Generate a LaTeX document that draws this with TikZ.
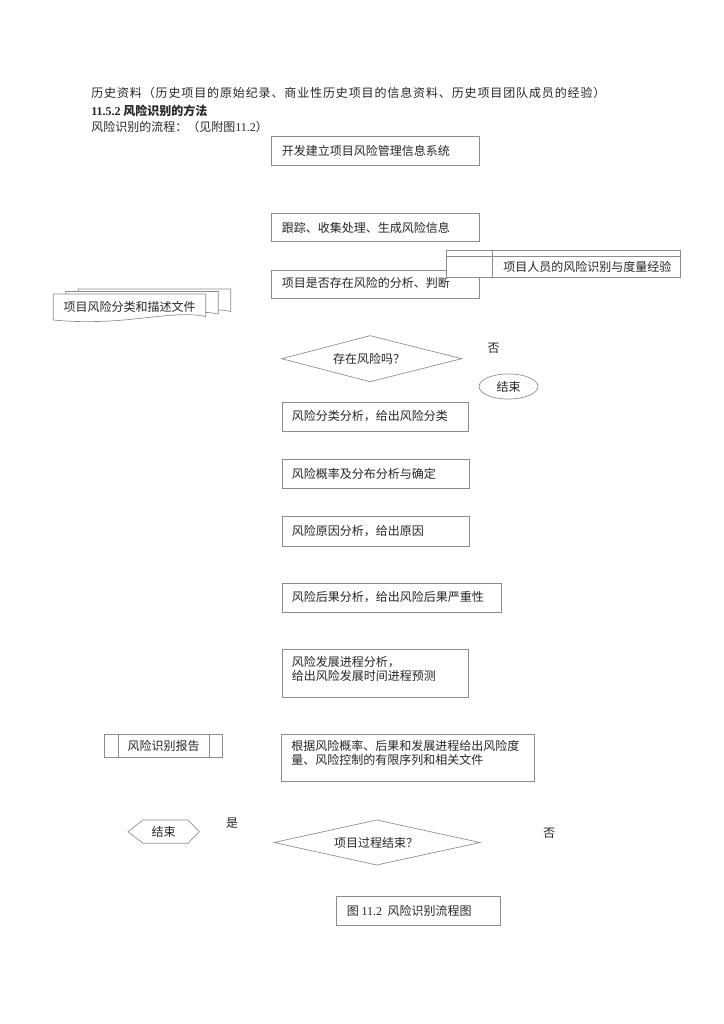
\documentclass[tikz,border=0pt]{standalone}
\usepackage{fontspec}
\setmainfont{Noto Sans CJK SC}
\newfontfamily\tnr{Liberation Serif}
\usepackage{tikz}

\tikzset{
  frame/.style={draw=black!45,line width=0.5pt,fill=white},
  txt/.style={anchor=west,inner sep=0pt,text=black!85,font=\fontsize{9}{10.2}\selectfont,align=left},
  mid/.style={txt,anchor=center}
}

\begin{document}
\begin{tikzpicture}[x=0.75pt,y=-0.75pt]
  \useasboundingbox[fill=white] (0,0) rectangle (724,1024);
  % --- heading lines ---
  \node[txt] (hist) at (91,93) {\addfontfeature{LetterSpace=7.3}%
    历史资料（历史项目的原始纪录、商业性历史项目的信息资料、历史项目团队成员的经验）};
  \node[txt,font=\fontsize{9}{10.2}\selectfont\bfseries] (sect) at (91,111) {{\tnr 11.5.2} 风险识别的方法};
  \node[txt] (flow) at (91,127) {风险识别的流程：（见附图{\tnr 11.2}）};
  % --- upper boxes ---
  \draw[frame] (271.7,136.7) rectangle (479,165.7);
  \node[txt] (sys) at (281.7,151) {开发建立项目风险管理信息系统};
  \draw[frame] (271.7,213.3) rectangle (479,241.7);
  \node[txt] (track) at (281.7,227.5) {跟踪、收集处理、生成风险信息};
  \draw[frame] (271.7,270) rectangle (479,298);
  \node[txt] (judge) at (281.7,283) {项目是否存在风险的分析、判断};
  % experience store (covers the box below it)
  \draw[frame] (446.7,250) rectangle (680,277.3);
  \draw[black!45,line width=0.5pt] (446.7,256) -- (680,256) (492,250) -- (492,277.3);
  \node[txt] (exper) at (503,267) {项目人员的风险识别与度量经验};
  % --- stacked documents ---
  \foreach \dx/\dy in {25/-5,12.5/-2.5,0/0}
    \draw[frame,shift={(\dx,\dy)}] (53.3,294) -- (205.7,294) -- (205.7,316.5)
      .. controls (170,309) and (125,327) .. (53.3,320) -- cycle;
  \node[txt] (docs) at (63.3,306.5) {项目风险分类和描述文件};
  % --- decision: risk? ---
  \draw[frame] (281.7,358.7) -- (370,335.7) -- (461.7,358.7) -- (370,381.7) -- cycle;
  \node[mid] (risk) at (369,359) {存在风险吗？};
  \node[mid] (no1) at (493.5,348) {否};
  \draw[frame] (508.5,386.5) ellipse [x radius=22.1pt, y radius=9.4pt];
  \node[mid] (end1) at (508.5,387) {结束};
  % --- analysis boxes ---
  \draw[frame] (282.7,402) rectangle (468,431);
  \node[txt] (cls) at (291.7,416.5) {风险分类分析，给出风险分类};
  \draw[frame] (282,459) rectangle (469,488);
  \node[txt] (prob) at (291.7,473.5) {风险概率及分布分析与确定};
  \draw[frame] (282,516) rectangle (469,546);
  \node[txt] (cause) at (291.7,531) {风险原因分析，给出原因};
  \draw[frame] (282,583) rectangle (501,612);
  \node[txt] (cons) at (291.7,597.5) {风险后果分析，给出风险后果严重性};
  \draw[frame] (282,649) rectangle (468,697);
  \node[txt,anchor=north west] (prog) at (291.7,656) {风险发展进程分析，\\给出风险发展时间进程预测};
  % --- report + ranking ---
  \draw[frame] (104,734) rectangle (222.7,757);
  \draw[black!45,line width=0.5pt] (118,734) -- (118,757) (209,734) -- (209,757);
  \node[mid] (report) at (163.5,745.5) {风险识别报告};
  \draw[frame] (281.7,734) rectangle (534,781.7);
  \node[txt,anchor=north west] (rank) at (291,740.5) {根据风险概率、后果和发展进程给出风险度\\量、风险控制的有限序列和相关文件};
  % --- decision: project over? ---
  \draw[frame] (128,831.7) -- (143,820) -- (188,820) -- (199.3,831.7) -- (188,843.3) -- (143,843.3) -- cycle;
  \node[mid] (end2) at (163.5,832) {结束};
  \node[mid] (yes) at (232,823) {是};
  \draw[frame] (274,842.5) -- (376.7,820) -- (480,842.5) -- (376.7,865) -- cycle;
  \node[mid] (over) at (376,843) {项目过程结束？};
  \node[mid] (no2) at (549,833) {否};
  % --- caption ---
  \draw[frame] (336.7,896) rectangle (500.7,925);
  \node[txt] (cap) at (346.7,910.5) {图 {\tnr 11.2}\ \ 风险识别流程图};
\end{tikzpicture}
\end{document}
